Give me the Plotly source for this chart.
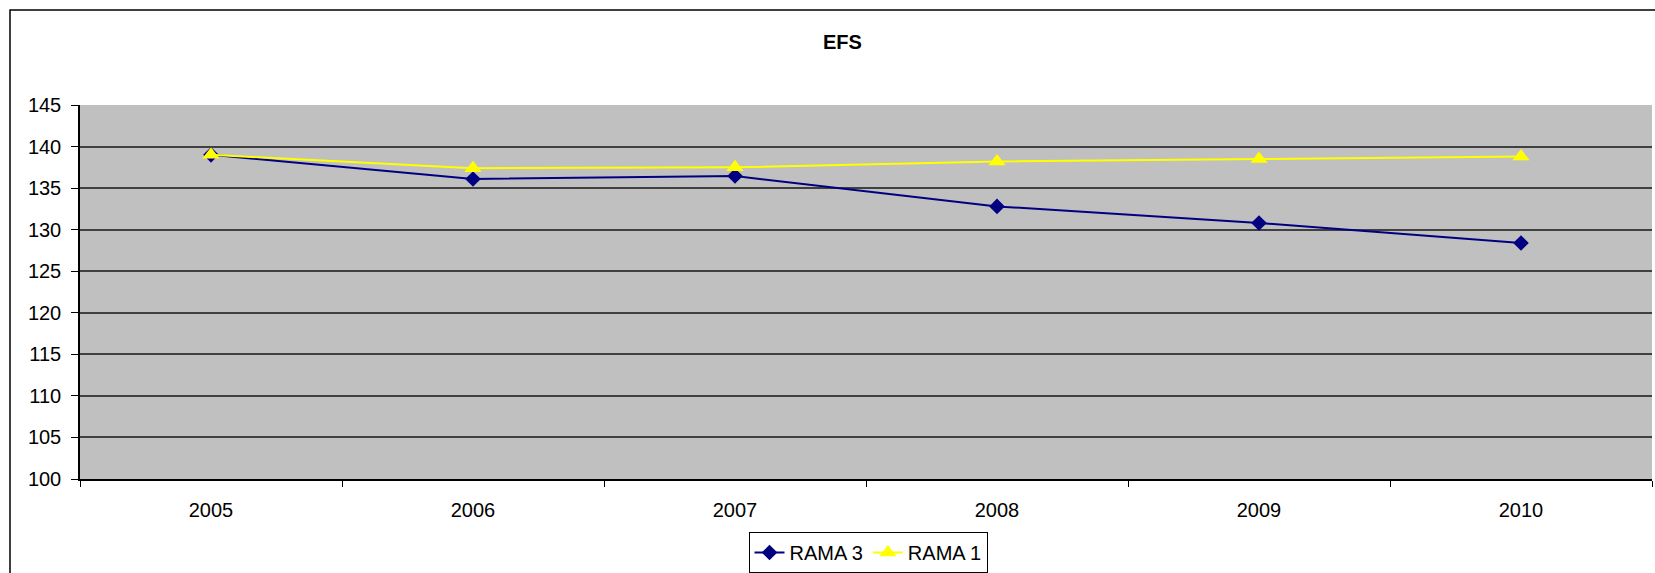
"""
EFS line chart, Excel-style grey plot area
"""

import plotly.graph_objects as go

YEARS = ["2005", "2006", "2007", "2008", "2009", "2010"]
RAMA_3 = [139.0, 136.1, 136.45, 132.8, 130.8, 128.4]
RAMA_1 = [139.0, 137.4, 137.5, 138.2, 138.5, 138.8]

NAVY = "#000080"
YELLOW = "#FFFF00"
PLOT_BG = "#C0C0C0"
GRID_COLOR = "#404040"
FONT = "Liberation Sans, Arial, sans-serif"

fig = go.Figure()

fig.add_trace(go.Scatter(
    x=YEARS, y=RAMA_3, name="RAMA 3", mode="lines+markers",
    line=dict(color=NAVY, width=2),
    marker=dict(symbol="diamond", size=12, color=NAVY),
))
fig.add_trace(go.Scatter(
    x=YEARS, y=RAMA_1, name="RAMA 1", mode="lines+markers",
    line=dict(color=YELLOW, width=2),
    marker=dict(symbol="triangle-up", size=15, color=YELLOW),
))

fig.update_layout(
    width=1655, height=573,
    margin=dict(l=80, r=3, t=105, b=94),
    paper_bgcolor="white",
    plot_bgcolor=PLOT_BG,
    font=dict(family=FONT, size=20, color="black"),
    title=dict(
        text="<b>EFS</b>", x=0.485, xref="paper", y=1 - 42 / 573,
        yref="container", xanchor="center", yanchor="middle",
        font=dict(size=20, color="black"),
    ),
    showlegend=True,
    legend=dict(
        orientation="h", x=868 / 1655, xref="container", xanchor="center",
        y=0, yref="container", yanchor="bottom",
        bordercolor="black", borderwidth=1, bgcolor="white",
        font=dict(size=20), tracegroupgap=0,
    ),
    xaxis=dict(
        type="category", range=[-0.5, 5.5], tickson="boundaries",
        ticks="outside", ticklen=6, tickcolor="black",
        ticklabelstandoff=12,
        showline=True, linecolor="black", linewidth=1.5,
        showgrid=False, zeroline=False, fixedrange=True,
    ),
    yaxis=dict(
        range=[100, 145], dtick=5, tick0=100,
        ticks="outside", ticklen=7, tickcolor="black",
        ticklabelstandoff=6,
        showline=True, linecolor="black", linewidth=1.5,
        showgrid=True, gridcolor=GRID_COLOR, gridwidth=1.5,
        zeroline=False, fixedrange=True,
    ),
    shapes=[
        dict(
            type="rect", xref="paper", yref="paper",
            x0=(10 - 80) / 1572, x1=1.2, y0=-0.5, y1=(479 - 10) / 374,
            line=dict(color="black", width=1.5), fillcolor="rgba(0,0,0,0)",
            layer="below",
        ),
    ],
)

# drop the browser's default 8px body margin so the figure fills the window
fig.write_html(
    "out.html",
    config={"displayModeBar": False},
    post_script="document.body.style.margin = '0';",
)
